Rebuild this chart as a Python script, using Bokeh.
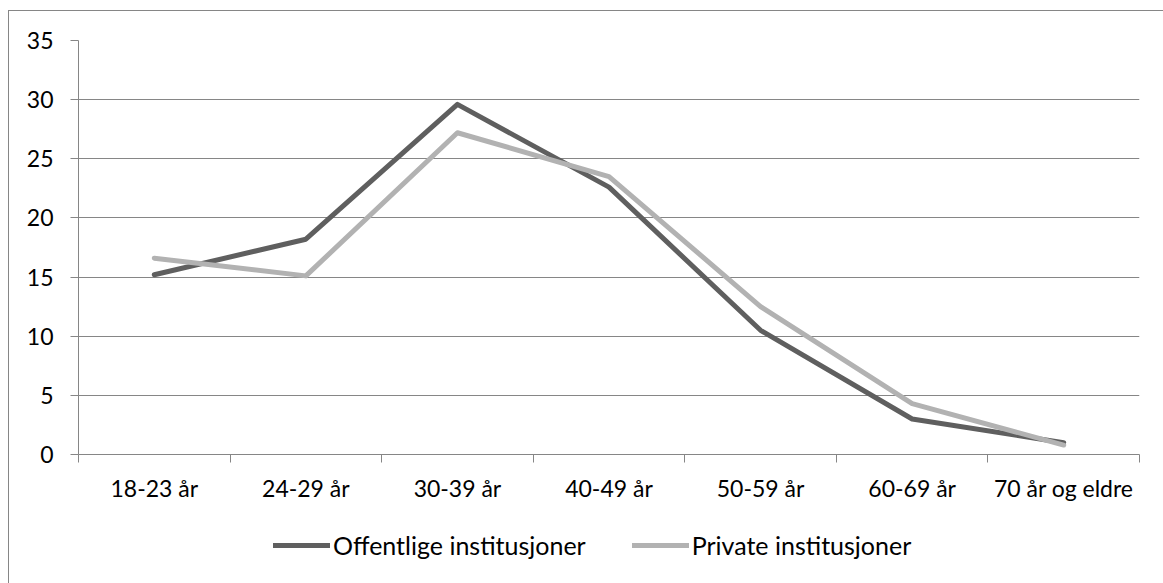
from bokeh.plotting import figure
from bokeh.layouts import column
from bokeh.models import ColumnDataSource, FixedTicker, Range1d, Legend, LegendItem
from bokeh.embed import file_html
from bokeh.resources import INLINE

categories = ["18-23 år", "24-29 år", "30-39 år", "40-49 år", "50-59 år", "60-69 år", "70 år og eldre"]
offentlige = [15.2, 18.2, 29.6, 22.6, 10.5, 3.0, 1.0]
private = [16.6, 15.1, 27.2, 23.5, 12.5, 4.3, 0.8]
series_names = ["Offentlige institusjoner", "Private institusjoner"]
y_ticks = [0, 5, 10, 15, 20, 25, 30, 35]

FONT = "Lato"
FS = "23px"
LEG_FS = "25px"
GRID = "#868686"
DARK = "#5f5f5f"
LIGHT = "#b2b2b2"

xpos = [i + 0.5 for i in range(len(categories))]
src = ColumnDataSource(dict(x=xpos, off=offentlige, priv=private))

W = 1155
H_MAIN = 495
H_LEG = 78

p = figure(width=W, height=H_MAIN, output_backend="svg", toolbar_location=None,
           x_range=Range1d(0, len(categories)), y_range=Range1d(0, 35))
p.min_border_left = 69
p.min_border_right = 25
p.min_border_top = 29
p.min_border_bottom = 52
p.outline_line_color = None
p.background_fill_color = "white"
p.border_fill_color = "white"

# y axis
p.yaxis.ticker = FixedTicker(ticks=y_ticks)
p.yaxis.axis_line_color = GRID
p.yaxis.major_tick_line_color = GRID
p.yaxis.major_tick_out = 8
p.yaxis.major_tick_in = 0
p.yaxis.minor_tick_line_color = None
p.yaxis.major_label_text_font = FONT
p.yaxis.major_label_text_font_size = FS
p.yaxis.major_label_text_color = "black"
p.yaxis.major_label_standoff = 17
p.ygrid.grid_line_color = GRID
p.ygrid.grid_line_width = 1

# x axis: labels at category centers, ticks at category boundaries
p.xaxis.ticker = FixedTicker(ticks=xpos, minor_ticks=list(range(len(categories) + 1)))
p.xaxis.major_label_overrides = {x: c for x, c in zip(xpos, categories)}
p.xaxis.major_tick_line_color = None
p.xaxis.major_tick_out = 0
p.xaxis.minor_tick_line_color = GRID
p.xaxis.minor_tick_out = 8
p.xaxis.minor_tick_in = 0
p.xaxis.axis_line_color = GRID
p.xaxis.major_label_text_font = FONT
p.xaxis.major_label_text_font_size = FS
p.xaxis.major_label_text_color = "black"
p.xaxis.major_label_standoff = 11
p.xgrid.grid_line_color = None

p.line("x", "off", source=src, line_color=DARK, line_width=5,
       line_cap="round", line_join="round")
p.line("x", "priv", source=src, line_color=LIGHT, line_width=5,
       line_cap="round", line_join="round")

# legend panel below the chart (its frame is aligned with the main frame)
leg = figure(width=W, height=H_LEG, output_backend="svg", toolbar_location=None,
             x_range=Range1d(0, 1), y_range=Range1d(-10, -9),
             x_axis_type=None, y_axis_type=None)
leg.min_border = 0
leg.outline_line_color = None
leg.grid.visible = False
leg.background_fill_color = "white"
leg.border_fill_color = "white"
# same series, out of this panel's view: only their legend glyphs show
l1 = leg.line("x", "off", source=src, line_color=DARK, line_width=5, line_cap="round")
l2 = leg.line("x", "priv", source=src, line_color=LIGHT, line_width=5, line_cap="round")

legend = Legend(items=[LegendItem(label=series_names[0], renderers=[l1]),
                       LegendItem(label=series_names[1], renderers=[l2])],
                orientation="horizontal", location=(195, 24))
legend.border_line_color = None
legend.background_fill_alpha = 0
legend.label_text_font = FONT
legend.label_text_font_size = LEG_FS
legend.label_text_color = "black"
legend.glyph_width = 57
legend.label_standoff = 3
legend.spacing = 46
legend.padding = 10
legend.margin = 0
leg.add_layout(legend, "center")

layout = column(p, leg, spacing=0,
                styles={"border-left": f"1px solid {GRID}", "border-top": f"1px solid {GRID}",
                        "margin-left": "8px", "margin-top": "10px"})

open("out.html", "w").write(file_html(layout, INLINE))
